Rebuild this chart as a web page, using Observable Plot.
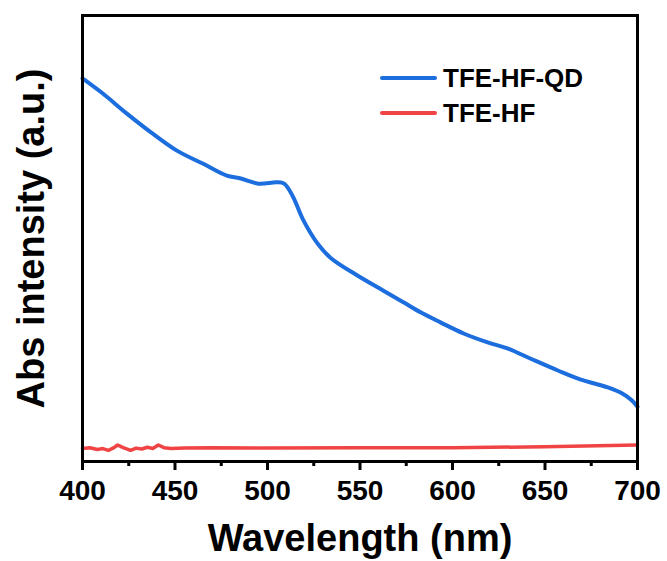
<!DOCTYPE html>
<html>
<head>
<meta charset="utf-8">
<script src="https://cdn.jsdelivr.net/npm/d3@7"></script>
<script src="https://cdn.jsdelivr.net/npm/@observablehq/plot@0.6"></script>
<style>
  html, body { margin: 0; padding: 0; background: #fff; }
  #chart { width: 667px; height: 561px; }
</style>
</head>
<body>
<div id="chart"></div>
<script>
// ---- Data ----
const qdWavelength = [400, 411, 424, 437, 451, 465, 478, 485, 495, 505, 509, 513.5, 519.5, 527, 534, 548.6, 562.7, 573.5, 583, 593.5, 606, 619, 630, 642, 657, 669, 684, 692, 697, 700];
const qdIntensity  = [0.859, 0.825, 0.780, 0.738, 0.697, 0.668, 0.641, 0.635, 0.623, 0.626, 0.623, 0.596, 0.540, 0.489, 0.457, 0.417, 0.383, 0.357, 0.334, 0.312, 0.287, 0.267, 0.253, 0.231, 0.204, 0.184, 0.166, 0.152, 0.137, 0.123];

const hfWavelength = [400, 404, 408, 411, 414, 417, 419, 422, 426, 429, 432, 435, 438, 441, 444, 448, 455, 470, 500, 550, 600, 650, 700];
const hfIntensity  = [0.029, 0.031, 0.027, 0.029, 0.025, 0.031, 0.037, 0.031, 0.025, 0.030, 0.028, 0.032, 0.029, 0.037, 0.031, 0.029, 0.030, 0.031, 0.030, 0.031, 0.031, 0.033, 0.037];

const majorTicks = [400, 450, 500, 550, 600, 650, 700];
const minorTicks = [425, 475, 525, 575, 625, 675];

const seriesNames = ["TFE-HF-QD", "TFE-HF"];
const seriesColors = ["#1c6ddd", "#f04444"];

const xTitle = "Wavelength (nm)";
const yTitle = "Abs intensity (a.u.)";

// ---- Build tables ----
const qd = qdWavelength.map((w, i) => ({w, v: qdIntensity[i]}));
const hf = hfWavelength.map((w, i) => ({w, v: hfIntensity[i]}));

const FONT = "'Liberation Sans', Arial, Helvetica, sans-serif";

const plot = Plot.plot({
  width: 667,
  height: 561,
  marginLeft: 82,
  marginRight: 30,
  marginTop: 15,
  marginBottom: 100,
  style: {fontFamily: FONT, fontWeight: "bold", background: "#fff", color: "#000"},
  x: {domain: [400, 700]},
  y: {domain: [0, 1], axis: null},
  marks: [
    Plot.line(hf, {x: "w", y: "v", stroke: seriesColors[1], strokeWidth: 3.5, curve: "linear"}),
    Plot.line(qd, {x: "w", y: "v", stroke: seriesColors[0], strokeWidth: 4, curve: "catmull-rom"}),
    Plot.axisX({ticks: majorTicks, tickSize: 9, tickPadding: 10, stroke: "#000", strokeWidth: 3, fontSize: 28, fontWeight: "bold", label: null, tickFormat: d => String(d)}),
    Plot.axisX({ticks: minorTicks, tickSize: 5, stroke: "#000", strokeWidth: 3, text: null, label: null}),
    Plot.frame({stroke: "#000", strokeWidth: 3}),
    Plot.text([xTitle], {frameAnchor: "bottom", dy: 89, lineAnchor: "bottom", textAnchor: "middle", fontSize: 38, fontWeight: "bold", fill: "#000"}),
    Plot.text([yTitle], {frameAnchor: "left", dx: -39, rotate: -90, lineAnchor: "bottom", textAnchor: "middle", fontSize: 38, fontWeight: "bold", fill: "#000"})
  ]
});

document.getElementById("chart").appendChild(plot);

// ---- Legend (inside plot area, top right) ----
const svg = d3.select(plot);
const legend = svg.append("g")
  .attr("font-family", FONT).attr("font-weight", "bold").attr("text-anchor", "start");
const legendRows = [78, 113];
seriesNames.forEach((name, i) => {
  const y = legendRows[i];
  legend.append("line")
    .attr("x1", 382).attr("x2", 435).attr("y1", y).attr("y2", y)
    .attr("stroke", seriesColors[i]).attr("stroke-width", 4).attr("stroke-linecap", "round");
  legend.append("text")
    .attr("x", 443).attr("y", y + 9)
    .attr("font-size", 26).attr("fill", "#000").attr("text-anchor", "start")
    .text(name);
});
</script>
</body>
</html>
